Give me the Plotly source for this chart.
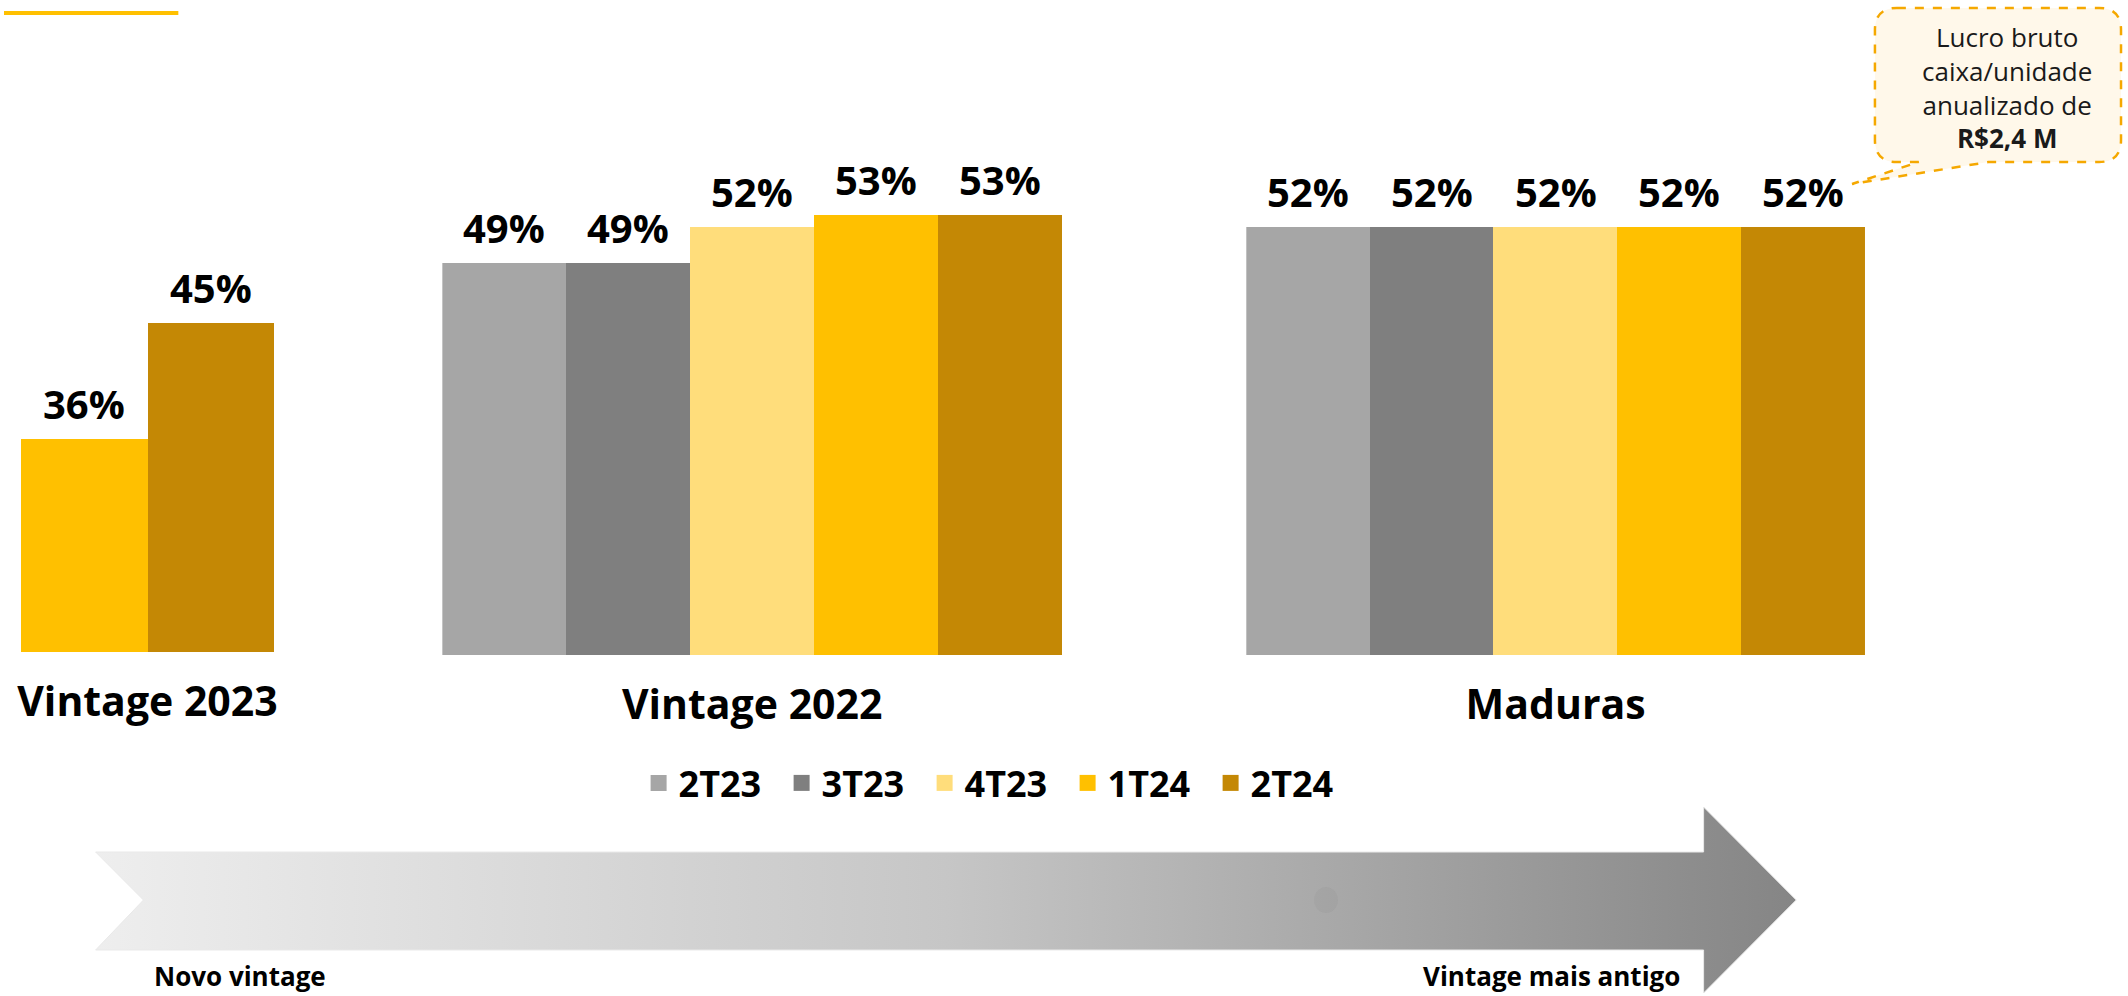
import plotly.graph_objects as go

# ---------------- data ----------------
panels = ["Vintage 2023", "Vintage 2022", "Maduras"]
series = ["2T23", "3T23", "4T23", "1T24", "2T24"]
colors = ["#A6A6A6", "#7F7F7F", "#FFDD7B", "#FFC000", "#C48805"]
vintage_2023 = [None, None, None, 36, 45]
vintage_2022 = [49, 49, 52, 53, 53]
maduras = [52, 52, 52, 52, 52]
panel_values = [vintage_2023, vintage_2022, maduras]

callout_lines = ["Lucro bruto", "caixa/unidade", "anualizado de", "<b>R$2,4 M</b>"]
arrow_left_label = "Novo vintage"
arrow_right_label = "Vintage mais antigo"

# ---------------- layout helpers ----------------
W, H = 2128, 996
FONT = "Open Sans"


def fx(p):
    return p / W


def fy(p):
    return 1 - p / H


axis_ids = [("x", "y"), ("x2", "y2"), ("x3", "y2")]

fig = go.Figure()
annotations = []

for pi, (pname, vals) in enumerate(zip(panels, panel_values)):
    xa, ya = axis_ids[pi]
    present = [(s, c, v) for s, c, v in zip(series, colors, vals) if v is not None]
    n = len(present)
    for k, (s, c, v) in enumerate(present):
        fig.add_trace(go.Bar(
            x=[pname], y=[v], name=s, marker=dict(color=c, line=dict(width=0)),
            xaxis=xa, yaxis=ya, showlegend=False, legendgroup=s,
            hovertemplate=f"{pname} {s}: %{{y}}%<extra></extra>",
        ))
        annotations.append(dict(
            x=-0.5 + (k + 0.5) / n, y=v, xref=xa, yref=ya,
            text=f"<b>{v}%</b>", showarrow=False, yanchor="bottom",
            yshift=6, font=dict(family=FONT, size=40, color="#000000"),
        ))

# legend entries
for s, c in zip(series, colors):
    fig.add_trace(go.Scatter(
        x=[None], y=[None], mode="markers", name=s,
        marker=dict(symbol="square", size=19, color=c),
        xaxis="x4", yaxis="y4", legendgroup=s, showlegend=True,
    ))

# gradient arrow (decoration, pixel coordinates on overlay axis)
arrow_x = [92, 1706, 1706, 1799, 1706, 1706, 92, 140, 92]
arrow_y = [852, 852, 807, 900, 993, 950, 950, 900, 852]
fig.add_trace(go.Scatter(
    x=arrow_x, y=arrow_y, mode="lines", fill="toself",
    line=dict(width=1, color="#e9e9e9"),
    fillgradient=dict(type="horizontal",
                      colorscale=[[0, "#eeeeee"], [0.5, "#c6c6c6"], [1, "#858585"]]),
    xaxis="x4", yaxis="y4", showlegend=False, hoverinfo="skip",
))

# callout
x0, x1, y0, y1, r = 1878, 2125, 8, 162, 22
callout_path = (
    f"M {x0 + r},{y0} L {x1 - r},{y0} Q {x1},{y0} {x1},{y0 + r} "
    f"L {x1},{y1 - r} Q {x1},{y1} {x1 - r},{y1} L 1992,{y1} L 1855,184 L 1922,{y1} "
    f"L {x0 + r},{y1} Q {x0},{y1} {x0},{y1 - r} L {x0},{y0 + r} Q {x0},{y0} {x0 + r},{y0} Z"
)
shapes = [
    dict(type="path", path=callout_path, xref="x4", yref="y4",
         fillcolor="#FFF8EA", line=dict(color="#F5A800", width=2.5, dash="dash")),
    dict(type="line", x0=0, x1=175, y0=13, y1=13, xref="x4", yref="y4",
         line=dict(color="#FFC000", width=4)),
    dict(type="circle", x0=1315, x1=1339, y0=887, y1=913, xref="x4", yref="y4",
         fillcolor="rgba(90,90,90,0.06)", line=dict(width=0)),
]

annotations.append(dict(
    x=fx(2011), y=fy(88), xref="paper", yref="paper", showarrow=False,
    text="<br>".join(callout_lines), align="center", xanchor="center", yanchor="middle",
    font=dict(family=FONT, size=26, color="#1a1a1a"),
))
annotations.append(dict(
    x=fx(149), y=fy(976), xref="paper", yref="paper", showarrow=False,
    text=f"<b>{arrow_left_label}</b>", xanchor="left", yanchor="middle",
    font=dict(family=FONT, size=26, color="#000000"),
))
annotations.append(dict(
    x=fx(1684), y=fy(976), xref="paper", yref="paper", showarrow=False,
    text=f"<b>{arrow_right_label}</b>", xanchor="right", yanchor="middle",
    font=dict(family=FONT, size=26, color="#000000"),
))

xaxis_common = dict(type="category", range=[-0.5, 0.5], showgrid=False, zeroline=False,
                    showline=False, ticks="", ticklabelstandoff=22, fixedrange=True,
                    tickfont=dict(family=FONT, size=41, color="#000000", weight=700))
yaxis_common = dict(visible=False, showgrid=False, zeroline=False, fixedrange=True)

fig.update_layout(
    width=W, height=H, margin=dict(l=0, r=0, t=0, b=0),
    paper_bgcolor="white", plot_bgcolor="rgba(0,0,0,0)",
    barmode="group", bargap=0, bargroupgap=0,
    font=dict(family=FONT, color="#000000"),
    xaxis=dict(domain=[fx(17), fx(271)], anchor="y", **xaxis_common),
    yaxis=dict(domain=[fy(652), fy(100)], range=[19.47, 62.29], anchor="x", **yaxis_common),
    xaxis2=dict(domain=[fx(440), fx(1062)], anchor="y2", **xaxis_common),
    yaxis2=dict(domain=[fy(655), fy(100)], range=[16.33, 62.58], anchor="x2", **yaxis_common),
    xaxis3=dict(domain=[fx(1247), fx(1868)], anchor="y2", **xaxis_common),
    xaxis4=dict(domain=[0, 1], range=[0, W], visible=False, anchor="y4", fixedrange=True),
    yaxis4=dict(domain=[0, 1], range=[H, 0], visible=False, anchor="x4", fixedrange=True),
    legend=dict(orientation="h", x=fx(637), xanchor="left", y=fy(783), yanchor="middle",
                font=dict(family=FONT, size=36, color="#000000", weight=700),
                entrywidth=98, entrywidthmode="pixels", bgcolor="rgba(0,0,0,0)",
                itemclick=False, itemdoubleclick=False),
    annotations=annotations,
    shapes=shapes,
    showlegend=True,
)

fig.write_html("out.html")
